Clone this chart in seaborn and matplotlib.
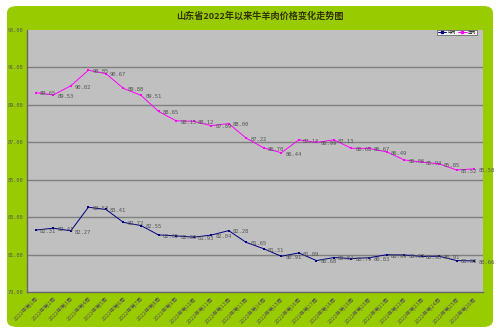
import matplotlib
matplotlib.use("Agg")
import matplotlib.pyplot as plt
from matplotlib.patches import FancyBboxPatch
from matplotlib.lines import Line2D
import seaborn as sns
import pandas as pd
import numpy as np

weeks = [f"2022年第{i}周" for i in range(1, 27)]
beef = [82.31, 82.41, 82.27, 83.53, 83.41, 82.72, 82.55, 82.05, 82.00, 81.93,
        82.04, 82.28, 81.65, 81.31, 80.91, 81.09, 80.68, 80.84, 80.79, 80.83,
        80.99, 80.98, 80.90, 80.91, 80.68, 80.66]
mutton = [89.65, 89.53, 90.02, 90.85, 90.67, 89.88, 89.51, 88.65, 88.15, 88.12,
          87.89, 88.00, 87.22, 86.70, 86.44, 87.13, 86.99, 87.13, 86.68, 86.67,
          86.49, 86.06, 85.94, 85.85, 85.52, 85.58]
series_names = ["牛肉", "羊肉"]
yticks = [79, 81, 83, 85, 87, 89, 91, 93]
title = "山东省2022年以来牛羊肉价格变化走势图"

sns.set_theme(style="white")
plt.rcParams['font.family'] = ['Noto Sans CJK SC', 'DejaVu Sans']

df = pd.DataFrame({
    "pos": list(range(len(weeks))) * 2,
    "price": beef + mutton,
    "kind": [series_names[0]] * len(beef) + [series_names[1]] * len(mutton),
})

fig = plt.figure(figsize=(5, 3.33), dpi=100)
fig.patch.set_facecolor("white")
bg = FancyBboxPatch((7 / 500, 6 / 333), 486 / 500, 321 / 333,
                    boxstyle="round,pad=0,rounding_size=0.02",
                    transform=fig.transFigure, facecolor="#99CC00",
                    edgecolor="none", zorder=-10)
fig.patches.append(bg)

ax = fig.add_axes([27 / 500, 1 - 292 / 333, 456 / 500, 262 / 333])
ax.set_zorder(5)
ax.set_facecolor("#C0C0C0")

palette = {series_names[0]: "#000080", series_names[1]: "#FF00FF"}
sns.lineplot(data=df, x="pos", y="price", hue="kind", palette=palette,
             marker="s", markersize=2.0, markeredgewidth=0, linewidth=0.7,
             ax=ax, legend=False, zorder=3)

for vals in (beef, mutton):
    for i, v in enumerate(vals):
        ax.annotate(f"{v:.2f}", (i, v), xytext=(3, -2), textcoords="offset points",
                    fontsize=4, color="#555555", family="DejaVu Sans Mono")

ax.set_xlim(-0.5, len(weeks) - 0.5)
ax.set_ylim(79, 93)
ax.set_yticks(yticks)
ax.set_yticklabels([f"{t:.2f}" for t in yticks], fontsize=3.8, color="#555555",
                   family="DejaVu Sans Mono")
for t in yticks[1:-1]:
    ax.axhline(t, color="#7f7f7f", linewidth=1.0, zorder=1)
ax.set_xticks(range(len(weeks)))
ax.set_xticklabels(weeks, rotation=45, ha="right", rotation_mode="anchor",
                   fontsize=4.0, color="#555555")
ax.set_xticks(np.arange(-0.5, len(weeks), 1), minor=True)
ax.tick_params(axis="x", which="major", length=0, pad=3)
ax.tick_params(axis="x", which="minor", length=2, direction="in", color="#666666")
ax.tick_params(axis="y", length=2, pad=1, color="#666666")
ax.set_xlabel("")
ax.set_ylabel("")
for s in ["top", "right"]:
    ax.spines[s].set_visible(False)
for s in ["left", "bottom"]:
    ax.spines[s].set_color("#666666")
    ax.spines[s].set_linewidth(1.0)

fig.text(0.52, 1 - 16 / 333, title, ha="center", va="center", fontsize=6.6,
         fontweight="bold", color="#333300")

handles = [Line2D([], [], color=palette[n], marker="s", markersize=2, linewidth=0.7)
           for n in series_names]
leg = fig.legend(handles, series_names, loc="center", ncol=2,
                 bbox_to_anchor=(457 / 500, 1 - 32.5 / 333), fontsize=3,
                 frameon=True, fancybox=False, handlelength=2, handletextpad=0.3,
                 columnspacing=0.6, borderpad=0.2)
leg.set_zorder(10)
leg.get_frame().set_facecolor("white")
leg.get_frame().set_edgecolor("#333333")
leg.get_frame().set_linewidth(0.5)

fig.savefig("out.png", dpi=100, facecolor="white")
